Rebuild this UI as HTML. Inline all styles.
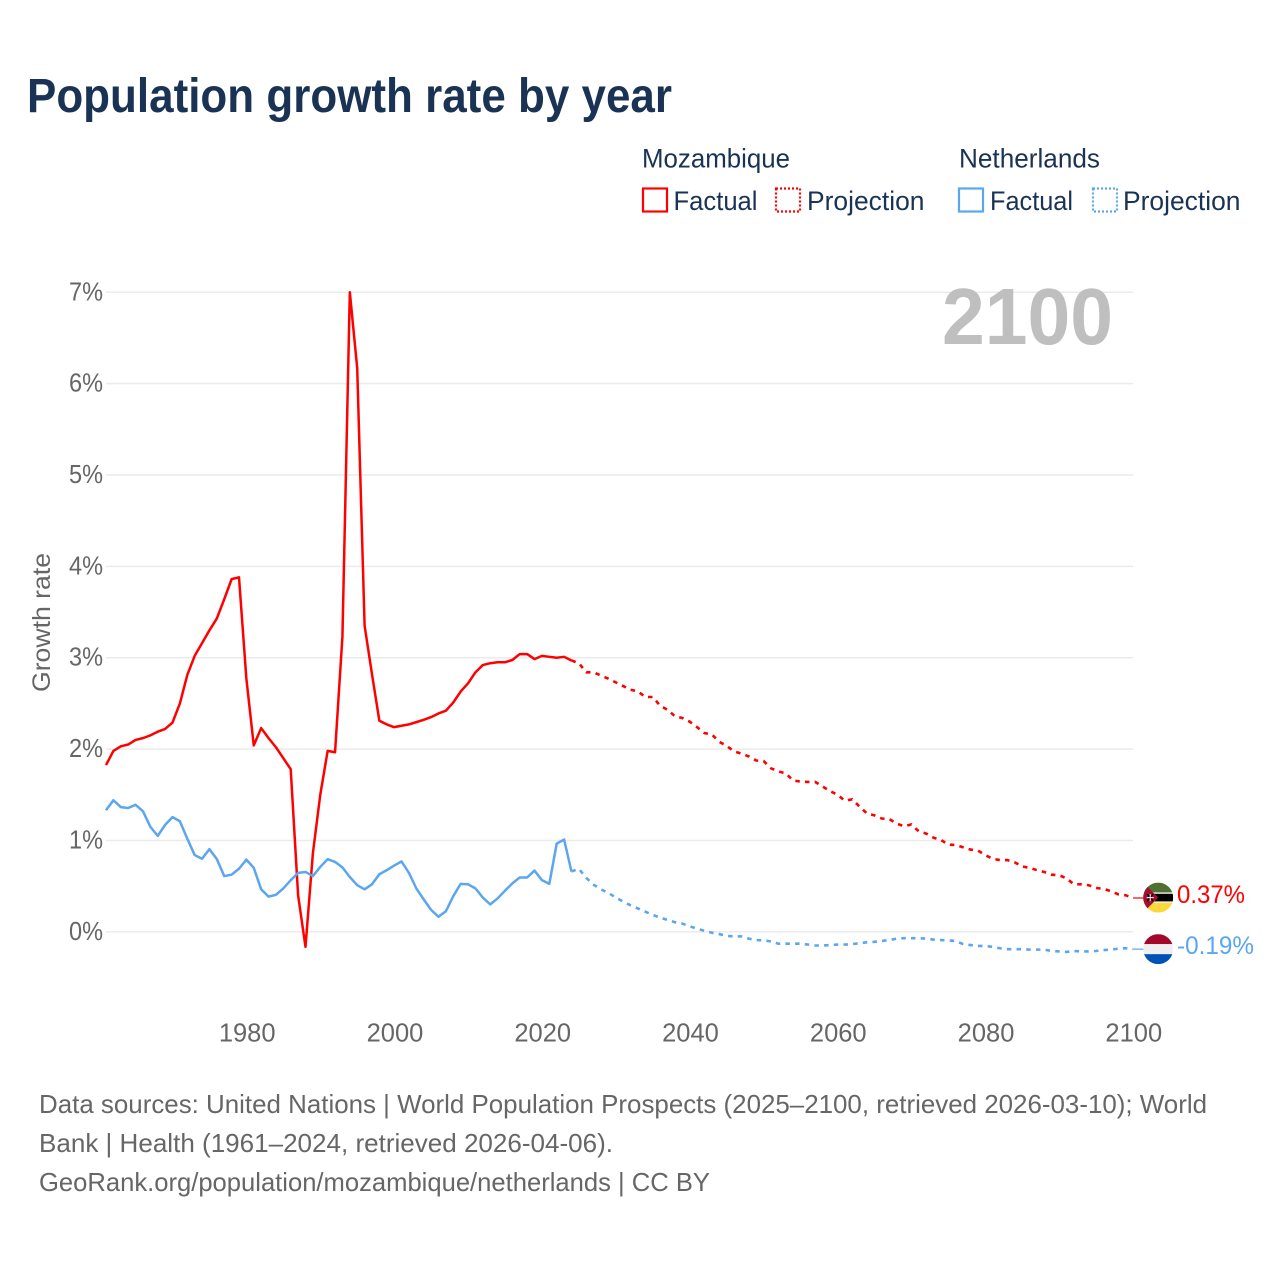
<!DOCTYPE html>
<html lang="en">
<head>
<meta charset="utf-8">
<title>Population growth rate by year</title>
<style>
html,body{margin:0;padding:0;background:#fff;width:1280px;height:1280px;overflow:hidden}
svg{display:block}
text{font-family:"Liberation Sans",sans-serif}
</style>
</head>
<body>
<svg xmlns="http://www.w3.org/2000/svg" width="1280" height="1280" viewBox="0 0 1280 1280">
  <defs>
    <clipPath id="flag-clip"><circle cx="0" cy="0" r="15"/></clipPath>
  </defs>
  <text x="27" y="112" font-size="48" font-weight="700" fill="#1a3354" textLength="645" lengthAdjust="spacingAndGlyphs">Population growth rate by year</text>

  <g font-size="26.5" fill="#1a3354">
    <text x="642" y="167.5" textLength="148" lengthAdjust="spacingAndGlyphs">Mozambique</text>
    <rect x="643" y="188.5" width="24" height="23" fill="none" stroke="#ff0000" stroke-width="2.2"/>
    <text x="673.5" y="210" textLength="84" lengthAdjust="spacingAndGlyphs">Factual</text>
    <rect x="776" y="188.5" width="24" height="23" fill="none" stroke="#ff0000" stroke-width="2.2" stroke-dasharray="2 2"/>
    <text x="807" y="210" textLength="117.5" lengthAdjust="spacingAndGlyphs">Projection</text>
    <text x="959" y="167.5" textLength="141" lengthAdjust="spacingAndGlyphs">Netherlands</text>
    <rect x="959" y="188.5" width="24" height="23" fill="none" stroke="#5ba6ee" stroke-width="2.2"/>
    <text x="990" y="210" textLength="83" lengthAdjust="spacingAndGlyphs">Factual</text>
    <rect x="1093" y="188.5" width="24" height="23" fill="none" stroke="#5ba6ee" stroke-width="2.2" stroke-dasharray="2 2"/>
    <text x="1123" y="210" textLength="117.5" lengthAdjust="spacingAndGlyphs">Projection</text>
  </g>

  <g id="grid"></g>
  <g id="y-labels"></g>
  <g id="x-labels"></g>
  <text transform="translate(50 692) rotate(-90)" x="0" y="0" font-size="25" fill="#666666" textLength="139" lengthAdjust="spacingAndGlyphs">Growth rate</text>
  <text x="942" y="344" font-size="80" font-weight="700" fill="#bfbfbf" textLength="171" lengthAdjust="spacingAndGlyphs">2100</text>

  <g id="series"></g>

  <g id="flag-moz">
    <g clip-path="url(#flag-clip)">
      <rect x="-15" y="-15" width="30" height="10" fill="#4f7032"/>
      <rect x="-15" y="-5.2" width="30" height="10.4" fill="#f0f0f0"/>
      <rect x="-15" y="-3.8" width="30" height="7.6" fill="#000000"/>
      <rect x="-15" y="5.2" width="30" height="10" fill="#fbd83c"/>
      <path d="M-15,-15 L0,0 L-15,15 Z" fill="#a50f2f"/>
      <path d="M-11,-3.5 L-5,3.5 M-5,-3.5 L-11,3.5" stroke="#000" stroke-width="1.6"/>
      <path d="M-11.5,0 L-4.5,0 M-8,-3.5 L-8,3.5" stroke="#fff" stroke-width="1"/>
    </g>
  </g>
  <g id="flag-nl">
    <g clip-path="url(#flag-clip)">
      <rect x="-15" y="-15" width="30" height="10" fill="#a3082a"/>
      <rect x="-15" y="-5" width="30" height="10" fill="#efefef"/>
      <rect x="-15" y="5" width="30" height="10" fill="#0052b4"/>
    </g>
  </g>
  <g id="end-labels"></g>

  <g font-size="26" fill="#666666">
    <text x="39" y="1113" textLength="1168" lengthAdjust="spacingAndGlyphs">Data sources: United Nations | World Population Prospects (2025–2100, retrieved 2026-03-10); World</text>
    <text x="39" y="1152" textLength="574" lengthAdjust="spacingAndGlyphs">Bank | Health (1961–2024, retrieved 2026-04-06).</text>
    <text x="39" y="1191" textLength="671" lengthAdjust="spacingAndGlyphs">GeoRank.org/population/mozambique/netherlands | CC BY</text>
  </g>
</svg>
<script>
const yTicks = [0, 1, 2, 3, 4, 5, 6, 7];
const xTicks = [1980, 2000, 2020, 2040, 2060, 2080, 2100];
const factualStartYear = 1961;
const projectionStartYear = 2025;
const mozambiqueFactual = [1.825,1.98,2.03,2.05,2.10,2.12,2.15,2.19,2.22,2.29,2.50,2.81,3.02,3.16,3.30,3.43,3.64,3.86,3.88,2.77,2.04,2.23,2.12,2.02,1.90,1.78,0.40,-0.165,0.86,1.50,1.98,1.965,3.23,7.0,6.17,3.35,2.82,2.31,2.27,2.24,2.255,2.27,2.295,2.32,2.35,2.39,2.42,2.51,2.63,2.72,2.84,2.92,2.94,2.95,2.95,2.975,3.04,3.04,2.985,3.02,3.01,3.0,3.01,2.97];
const mozambiqueProjection = [2.94,2.84,2.84,2.805,2.77,2.73,2.69,2.65,2.63,2.57,2.57,2.475,2.43,2.36,2.34,2.30,2.24,2.175,2.16,2.08,2.035,1.975,1.95,1.92,1.875,1.87,1.79,1.755,1.735,1.655,1.645,1.64,1.64,1.59,1.54,1.50,1.435,1.45,1.37,1.295,1.275,1.24,1.235,1.185,1.155,1.175,1.10,1.075,1.03,1.005,0.955,0.95,0.925,0.90,0.89,0.84,0.80,0.785,0.785,0.76,0.715,0.70,0.675,0.655,0.625,0.62,0.585,0.52,0.52,0.51,0.48,0.47,0.445,0.41,0.40,0.37];
const netherlandsFactual = [1.33,1.44,1.365,1.355,1.39,1.32,1.15,1.05,1.17,1.255,1.21,1.02,0.84,0.80,0.905,0.795,0.61,0.625,0.69,0.79,0.70,0.465,0.385,0.405,0.475,0.565,0.645,0.655,0.61,0.71,0.795,0.765,0.705,0.60,0.51,0.465,0.52,0.63,0.675,0.725,0.77,0.645,0.475,0.355,0.24,0.165,0.225,0.39,0.525,0.52,0.475,0.375,0.30,0.365,0.45,0.53,0.595,0.595,0.67,0.565,0.525,0.965,1.01,0.66];
const netherlandsProjection = [0.69,0.59,0.515,0.465,0.425,0.375,0.33,0.29,0.255,0.22,0.185,0.155,0.13,0.105,0.09,0.06,0.035,0.01,-0.01,-0.025,-0.045,-0.05,-0.05,-0.075,-0.09,-0.095,-0.105,-0.13,-0.13,-0.13,-0.13,-0.14,-0.15,-0.15,-0.145,-0.14,-0.14,-0.135,-0.125,-0.115,-0.11,-0.10,-0.09,-0.075,-0.07,-0.07,-0.07,-0.075,-0.085,-0.09,-0.095,-0.10,-0.135,-0.145,-0.155,-0.155,-0.165,-0.18,-0.19,-0.19,-0.19,-0.195,-0.195,-0.195,-0.21,-0.215,-0.22,-0.21,-0.215,-0.215,-0.21,-0.20,-0.195,-0.185,-0.18,-0.19];
const endValues = [0.37, -0.19];

const NS = 'http://www.w3.org/2000/svg';
const xLeft = 106, xRight = 1133, yearMin = 1961, yearMax = 2100;
const yZero = 931.8, yPerUnit = 91.36;
function xScale(year) { return xLeft + (year - yearMin) * (xRight - xLeft) / (yearMax - yearMin); }
function yScale(v) { return yZero - v * yPerUnit; }
function make(tag, parentId) {
  const el = document.createElementNS(NS, tag);
  document.getElementById(parentId).appendChild(el);
  return el;
}
function pathFrom(startYear, values) {
  return values.map(function (v, i) {
    return (i ? 'L' : 'M') + xScale(startYear + i).toFixed(2) + ',' + yScale(v).toFixed(2);
  }).join(' ');
}

yTicks.forEach(function (t) {
  const line = make('line', 'grid');
  
  
  line.setAttribute('x1', xLeft);
  line.setAttribute('x2', xRight);
  line.setAttribute('y1', yScale(t));
  line.setAttribute('y2', yScale(t));
  line.setAttribute('stroke', '#ebebeb');
  line.setAttribute('stroke-width', '1.5');
  const label = make('text', 'y-labels');
  
  
  label.setAttribute('x', 69);
  label.setAttribute('y', yScale(t) + 8);
  label.setAttribute('font-size', '25.5');
  label.setAttribute('fill', '#666666');
  label.setAttribute('textLength', '34');
  label.setAttribute('lengthAdjust', 'spacingAndGlyphs');
  label.textContent = t + '%';
});

xTicks.forEach(function (t) {
  const label = make('text', 'x-labels');
  
  
  label.setAttribute('x', xScale(t) + 0.8);
  label.setAttribute('y', 1041.5);
  label.setAttribute('font-size', '25.5');
  label.setAttribute('fill', '#666666');
  label.setAttribute('text-anchor', 'middle');
  label.textContent = t;
});

function drawSeries(name, color, factual, projection) {
  const solid = make('path', 'series');
  
  
  solid.setAttribute('d', pathFrom(factualStartYear, factual));
  solid.setAttribute('fill', 'none');
  solid.setAttribute('stroke', color);
  solid.setAttribute('stroke-width', '2.5');
  solid.setAttribute('stroke-linejoin', 'round');
  const lastFactual = factual[factual.length - 1];
  const dashed = make('path', 'series');
  
  
  dashed.setAttribute('d', pathFrom(projectionStartYear - 1, [lastFactual].concat(projection)));
  dashed.setAttribute('fill', 'none');
  dashed.setAttribute('stroke', color);
  dashed.setAttribute('stroke-width', '2.6');
  dashed.setAttribute('stroke-dasharray', '4.5 5.2');
  const last = projection[projection.length - 1];
  const leader = make('line', 'series');
  
  
  leader.setAttribute('x1', xScale(yearMax));
  leader.setAttribute('x2', 1145);
  leader.setAttribute('y1', yScale(last));
  leader.setAttribute('y2', yScale(last));
  leader.setAttribute('stroke', color);
  leader.setAttribute('stroke-width', '1.2');
  return last;
}
const mozLast = drawSeries('mozambique', '#ff0000', mozambiqueFactual, mozambiqueProjection);
const nlLast = drawSeries('netherlands', '#5ba6ee', netherlandsFactual, netherlandsProjection);

document.getElementById('flag-moz').setAttribute('transform', 'translate(1158.2 ' + (yScale(mozLast) - 0.4) + ')');
document.getElementById('flag-nl').setAttribute('transform', 'translate(1158.2 ' + yScale(nlLast) + ')');

function endLabel(name, value, anchorValue, color, width) {
  const label = make('text', 'end-labels');
  
  
  label.setAttribute('x', 1177);
  label.setAttribute('y', yScale(anchorValue) + 5);
  label.setAttribute('font-size', '25');
  label.setAttribute('fill', color);
  label.setAttribute('textLength', width);
  label.setAttribute('lengthAdjust', 'spacingAndGlyphs');
  label.textContent = value.toFixed(2) + '%';
}
endLabel('mozambique', endValues[0], mozLast, '#ff0000', 68);
endLabel('netherlands', endValues[1], nlLast, '#5ba6ee', 77);
</script>
</body>
</html>
